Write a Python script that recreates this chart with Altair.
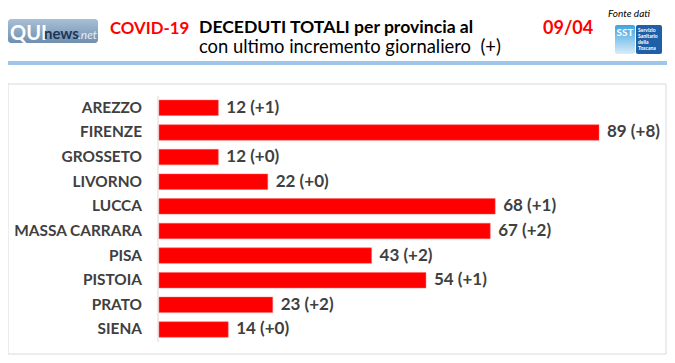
import altair as alt
import pandas as pd

provinces = ["AREZZO", "FIRENZE", "GROSSETO", "LIVORNO", "LUCCA",
             "MASSA CARRARA", "PISA", "PISTOIA", "PRATO", "SIENA"]
totals = [12, 89, 12, 22, 68, 67, 43, 54, 23, 14]
increments = [1, 8, 0, 0, 1, 2, 2, 1, 2, 0]

title_red = "COVID-19"
title_main = "DECEDUTI TOTALI per provincia al"
subtitle = "con ultimo incremento giornaliero\u00a0\u00a0(+)"
date_text = "09/04"
source_text = "Fonte dati"

df = pd.DataFrame({"province": provinces, "total": totals, "inc": increments})
df["label"] = [f"{t} (+{i})" for t, i in zip(totals, increments)]

W, H = 659, 347
FONT = "Lato"
GREY = "#404040"

one = pd.DataFrame({"a": [0]})

xs = alt.Scale(domain=[0, 89], range=[151, 591], nice=False, zero=True)
ys = alt.Scale(domain=provinces, range=[87.5, 333.8], paddingInner=0.37, paddingOuter=0.185)

border = alt.Chart(one).mark_rect(fill="white", stroke="#d9d9d9", strokeWidth=1).encode(
    x=alt.value(0), x2=alt.value(658), y=alt.value(76), y2=alt.value(346))
blue_line = alt.Chart(one).mark_rect(fill="#9fc5e8").encode(
    x=alt.value(0), x2=alt.value(W), y=alt.value(53), y2=alt.value(57))
axis_line = alt.Chart(one).mark_rule(color="#d9d9d9", strokeWidth=1).encode(
    x=alt.value(150), y=alt.value(88), y2=alt.value(334))

base = alt.Chart(df)
bars = base.mark_bar(color="#ff0000", stroke="#ff6060", strokeWidth=0.5).encode(
    x=alt.X("total:Q", scale=xs, axis=None),
    y=alt.Y("province:N", scale=ys, sort=provinces, axis=None),
)
values = base.mark_text(align="left", baseline="middle", dx=8, font=FONT,
                        fontWeight="bold", fontSize=17, color=GREY).encode(
    x=alt.X("total:Q", scale=xs),
    y=alt.Y("province:N", scale=ys, sort=provinces),
    text="label:N",
)
names = base.mark_text(align="right", baseline="middle", font=FONT,
                       fontWeight="bold", fontSize=15.4, color=GREY).encode(
    x=alt.value(134),
    y=alt.Y("province:N", scale=ys, sort=provinces),
    text="province:N",
)

def txt(s, x, y, size, color="black", weight="normal", style="normal", align="left", font=FONT, lh=None):
    kw = dict(align=align, baseline="alphabetic", font=font, fontSize=size,
              fontWeight=weight, fontStyle=style, color=color)
    if lh is not None:
        kw["lineHeight"] = lh
        kw["lineBreak"] = "\n"
        kw["baseline"] = "top"
    return alt.Chart(one).mark_text(**kw).encode(
        x=alt.value(x), y=alt.value(y), text=alt.value(s))

t1 = txt(title_red, 102, 26, 16.8, color="#ff0000", weight="bold")
t2 = txt(title_main, 191, 25, 17.6, weight="bold")
t3 = txt(subtitle, 191, 45, 18.4)
t4 = txt(date_text, 535, 26, 18, color="#ff0000", weight="bold")
t5 = txt(source_text, 600, 9, 10, style="italic")

# QUInews logo
qui_box = alt.Chart(one).mark_rect(
    cornerRadius=3,
    fill=alt.Gradient(gradient="linear", x1=0, x2=0, y1=0, y2=1,
                      stops=[alt.GradientStop(color="#a9c0d6", offset=0),
                             alt.GradientStop(color="#6f8fb0", offset=1)]),
).encode(x=alt.value(0), x2=alt.value(90), y=alt.value(11), y2=alt.value(35))
q1 = txt("QUI", 2, 32, 20, color="white", weight="bold")
q2 = txt("news", 36, 31, 15, color="#1d3557", weight="bold")
q3 = txt(".net", 70, 31, 12, color="#e8eef5", style="italic")

# SST logo
sst_a = alt.Chart(one).mark_rect(
    cornerRadius=2,
    fill=alt.Gradient(gradient="linear", x1=0, x2=0, y1=0, y2=1,
                      stops=[alt.GradientStop(color="#3fa3e0", offset=0),
                             alt.GradientStop(color="#d8ecf8", offset=1)]),
).encode(x=alt.value(607), x2=alt.value(627), y=alt.value(17), y2=alt.value(46))
sst_b = alt.Chart(one).mark_rect(cornerRadius=2, fill="#1f5fa8").encode(
    x=alt.value(628), x2=alt.value(654), y=alt.value(17), y2=alt.value(46))
s1 = txt("SST", 617, 28, 10, color="white", weight="bold", align="center")
s2 = txt("Servizio\nSanitario\ndella\nToscana", 630, 20, 5, color="white", weight="bold", lh=6)

chart = alt.layer(
    border, blue_line, axis_line, bars, values, names,
    t1, t2, t3, t4, t5, qui_box, q1, q2, q3, sst_a, sst_b, s1, s2
).properties(width=W, height=H, padding=0, autosize="none").configure_view(stroke=None)

chart.save("out.html", embed_options={"renderer": "svg", "actions": False})
